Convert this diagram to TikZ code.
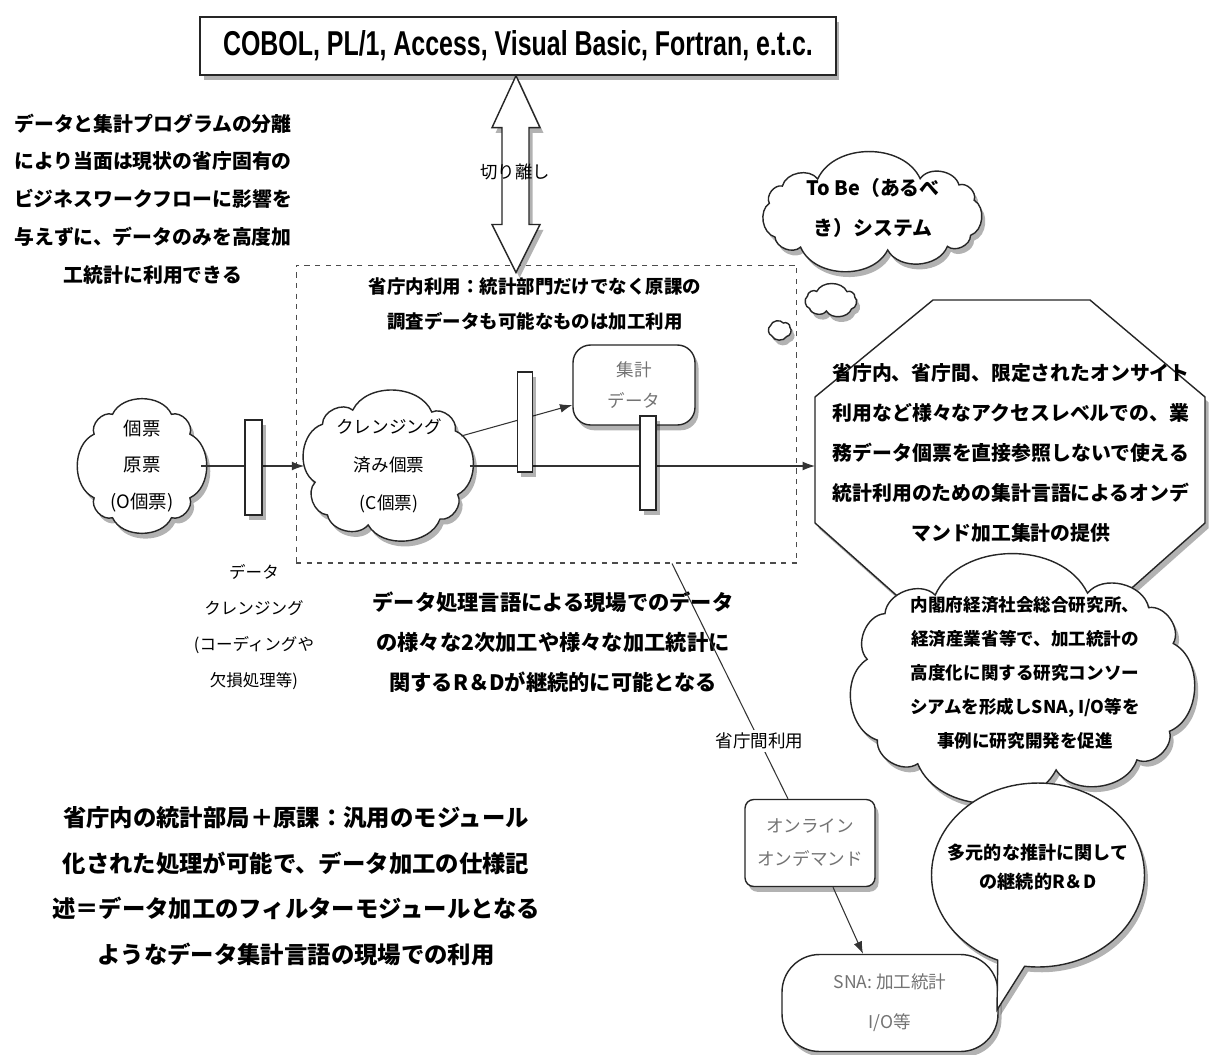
\documentclass[tikz,border=0pt]{standalone}
\usepackage{fontspec}
\usepackage{graphicx}
\setmainfont{Noto Sans CJK JP}
\newfontfamily\latf{Liberation Sans}
\usetikzlibrary{shapes.geometric,shapes.callouts,shadows,arrows.meta,calc}
\newcommand\fsz[2]{\fontsize{#1}{#2}\selectfont}
% cloud outline: #1 center, #2 half-width, #3 half-height (px, of the puff points), #4 puffs, #5 angle offset
\newcommand\cloudoutline[5]{%
  \begin{scope}[shift={#1},x={(#2*0.02cm,0cm)},y={(0cm,#3*0.02cm)}]
    \pgfmathtruncatemacro\cpn{#4-1}
    \foreach \i in {0,...,\cpn}{
      \pgfmathsetmacro\cpa{360/#4*\i+#5}
      \pgfmathsetmacro\cpc{cos(\cpa)}
      \pgfmathsetmacro\cps{sin(\cpa)}
      \pgfmathsetmacro\cpx{(2*(\cpc>=0)-1)*(abs(\cpc)+0.0001)^0.55}
      \pgfmathsetmacro\cpy{(2*(\cps>=0)-1)*(abs(\cps)+0.0001)^0.55}
      \coordinate (cp\i) at (\cpx,\cpy);
    }
    \draw[outl,shad] (cp0) \foreach \i in {1,...,\cpn}{ to[bend right=65] (cp\i)} to[bend right=65] (cp0) -- cycle;
  \end{scope}}
\begin{document}
\begin{tikzpicture}[x=0.02cm,y=-0.02cm,
  shad/.style={drop shadow={shadow xshift=2pt,shadow yshift=-3pt,opacity=0.3,fill=black}},
  outl/.style={draw=black!85,line width=0.8pt,fill=white},
  anchorshape/.style={ellipse,inner sep=0pt},
  filterbar/.style={rectangle,outl,shad,inner sep=0pt},
  conn/.style={line width=0.6pt,draw=black!80},
  arr/.style={conn,-{Latex[length=7pt,width=5pt]}},
  txt/.style={align=center,inner sep=0pt},
  graytxt/.style={txt,text=black!55},
]
\fill[white] (0,0) rectangle (1211,1055);
\useasboundingbox (0,0) rectangle (1211,1055);

% dashed region
\node[rectangle,draw=black!70,dash pattern=on 3pt off 3pt,line width=0.6pt,
  minimum width=10.02cm,minimum height=5.96cm,inner sep=0pt] (inner) at (546.5,414) {};

% top box
\node[rectangle,outl,shad,minimum width=12.72cm,minimum height=1.16cm,inner sep=0pt] (cobol) at (518,46)
  {\resizebox{11.8cm}{0.5cm}{\latf\bfseries COBOL, PL/1, Access, Visual Basic, Fortran, e.t.c.}};

% double arrow between top box and dashed region
\coordinate (dat) at ($(cobol.south)+(-2,0)$);
\coordinate (dab) at ($(inner.north)+(-30.5,8)$);
\draw[outl,shad,line join=miter] (dat) -- ($(dat)+(24,52)$) -- ($(dat)+(13,52)$) -- ($(dab)+(13,-48)$)
  -- ($(dab)+(24,-48)$) -- (dab) -- ($(dab)+(-24,-48)$) -- ($(dab)+(-14,-48)$)
  -- ($(dat)+(-14,52)$) -- ($(dat)+(-24,52)$) -- cycle;
\node[font=\fsz{9.9}{12}] (cut) at (515,172) {切り離し};

% texts
\node[txt,font=\bfseries\fsz{11.3}{21.5}] (sep) at (153,199)
  {データと集計プログラムの分離\\により当面は現状の省庁固有の\\ビジネスワークフローに影響を\\与えずに、データのみを高度加\\工統計に利用できる};
\node[txt,font=\bfseries\fsz{10.5}{19.8}] (inuse) at (535,304)
  {省庁内利用：統計部門だけでなく原課の\\調査データも可能なものは加工利用};
\node[txt,font=\fsz{9.4}{20.4}] (cltext) at (254,627)
  {データ\\クレンジング\\(コーディングや\\欠損処理等)};
\node[txt,font=\bfseries\fsz{12.1}{22.7}] (rdtext) at (553,642)
  {データ処理言語による現場でのデータ\\の様々な2次加工や様々な加工統計に\\関するR＆Dが継続的に可能となる};
\node[txt,font=\bfseries\fsz{13.3}{25.9}] (bltext) at (296,886)
  {省庁内の統計部局＋原課：汎用のモジュール\\化された処理が可能で、データ加工の仕様記\\述＝データ加工のフィルターモジュールとなる\\ようなデータ集計言語の現場での利用};

% clouds (outline drawn, named anchor node, text node)
\cloudoutline{(142,466)}{50}{54}{8}{22.5}
\node[anchorshape,minimum width=2.36cm,minimum height=2.4cm] (c1) at (142,466) {};
\node[txt,font=\fsz{10.5}{21}] (c1t) at (142,466) {個票\\原票\\(O個票)};

\cloudoutline{(387,467)}{72}{58}{9}{25}
\node[anchorshape,minimum width=3.3cm,minimum height=2.7cm] (c2) at (387,466) {};
\node[txt,font=\fsz{10}{21.5}] (c2t) at (389,466) {クレンジング\\済み個票\\(C個票)};

% aggregate data box
\node[rectangle,rounded corners=10pt,outl,shad,minimum width=2.44cm,minimum height=1.6cm,graytxt,
  font=\fsz{10}{18}] (agg) at (634,385) {集計\\データ};

% To Be cloud and thought bubbles
\cloudoutline{(872,214)}{103}{36}{11}{10}
\node[txt,font=\bfseries\fsz{11.3}{22.7}] (tobe) at (873,208) {To Be（あるべ\\き）システム};
\cloudoutline{(831,301)}{24}{10}{7}{10}
\cloudoutline{(780,330)}{10}{7}{5}{10}

% octagon
\draw[outl,shad] (933,300) -- (1090,300) -- (1205,397) -- (1205,523) -- (1107,610)
  -- (913,610) -- (815,523) -- (815,397) -- cycle;
\coordinate (octW) at (815,463);
\node[txt,font=\bfseries\fsz{11.3}{22.7}] (octtext) at (1011,453)
  {省庁内、省庁間、限定されたオンサイト\\利用など様々なアクセスレベルでの、業\\務データ個票を直接参照しないで使える\\統計利用のための集計言語によるオンデ\\マンド加工集計の提供};

% research cloud
\cloudoutline{(1021,681)}{154}{89}{11}{12}
\node[txt,font=\bfseries\fsz{10}{19.3}] (cao) at (1025,673)
  {内閣府経済社会総合研究所、\\経済産業省等で、加工統計の\\高度化に関する研究コンソー\\シアムを形成しSNA, I/O等を\\事例に研究開発を促進};

% online box and SNA box
\node[rectangle,rounded corners=5pt,outl,shad,minimum width=2.6cm,minimum height=1.74cm,graytxt,
  font=\fsz{10}{18.7}] (onl) at (810,843) {オンライン\\オンデマンド};
\node[rectangle,rounded corners=0.75cm,outl,shad,minimum width=4.32cm,minimum height=1.94cm,graytxt,
  font=\fsz{10}{22.7}] (sna) at (890,1003) {SNA: 加工統計\\I/O等};

% callout
\node[ellipse callout,outl,shad,minimum width=4.26cm,minimum height=3.68cm,
  callout absolute pointer={(997,1010)},
  label={[txt,font=\bfseries\fsz{10.3}{17},yshift=4.5pt]center:{多元的な推計に関して\\の継続的R＆D}}] (rdcall) at (1038,875) {};

% connectors
\draw[arr] (c1) -- (c2);
\draw[arr] (c2.east) -- (c2.east -| octW);
\draw[arr] (c2.22) -- ($(agg.west)+(0,20)$);
\draw[conn] ($(inner.south)+(125.5,0)$) -- node[pos=0.755,fill=white,inner sep=1.5pt,font=\fsz{10}{12}] (inter) {省庁間利用} ($(onl.north)+(-22,0)$);
\draw[arr] ($(onl.south)+(23,0)$) -- ($(sna.north)+(-27,0)$);

% filter bars
\node[filterbar,minimum width=0.34cm,minimum height=1.9cm] (fb1) at (253.5,467.5) {};
\node[filterbar,minimum width=0.3cm,minimum height=2.0cm] (fb2) at (525,422) {};
\node[filterbar,minimum width=0.32cm,minimum height=1.88cm] (fb3) at (648,463) {};
\end{tikzpicture}
\end{document}
